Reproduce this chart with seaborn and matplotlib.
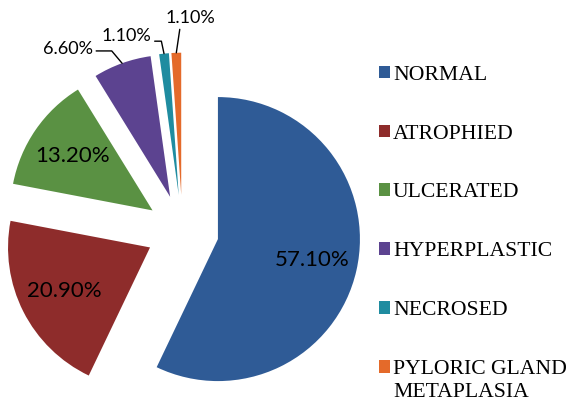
import matplotlib
matplotlib.use('Agg')
import matplotlib.pyplot as plt
import numpy as np
import seaborn as sns

categories = ['NORMAL', 'ATROPHIED', 'ULCERATED', 'HYPERPLASTIC', 'NECROSED', 'PYLORIC GLAND']
extra_line = 'METAPLASIA'
percentages = [57.1, 20.9, 13.2, 6.6, 1.1, 1.1]
colours = ['#2F5B96', '#8E2C2B', '#5A9143', '#5C4390', '#1F8CA0', '#E46A2A']

sns.set_theme(style='white')
plt.rcParams['font.family'] = ['Lato', 'DejaVu Sans']
plt.rcParams['text.color'] = 'black'

fig = plt.figure(figsize=(5.69, 4.03), dpi=100)
ax = fig.add_axes([0, 0, 1, 1])
wedges, texts, autotexts = ax.pie(
    percentages, colors=sns.color_palette(colours), startangle=90,
    counterclock=False, explode=[0.256] * len(percentages),
    autopct='%.2f%%', pctdistance=0.68,
    textprops=dict(fontsize=16, color='black'),
    wedgeprops=dict(linewidth=0))
ax.set_xlim(-1.285, 2.722)
ax.set_ylim(-1.211, 1.627)
ax.axis('off')

# small slices get their label outside with a leader line
outside = {
    3: dict(offset=(-39, 10), relpos=(1, 0.4), conn='angle,angleA=0,angleB=130,rad=0'),
    4: dict(offset=(-27, 13), relpos=(1, 0.15), conn='angle,angleA=0,angleB=102,rad=0'),
    5: dict(offset=(10, 25), relpos=(0.3, 0), conn='arc3'),
}
for i, o in outside.items():
    autotexts[i].set_visible(False)
    w = wedges[i]
    th = np.deg2rad((w.theta1 + w.theta2) / 2)
    xy = (w.center[0] + w.r * np.cos(th), w.center[1] + w.r * np.sin(th))
    ax.annotate(f'{percentages[i]:.2f}%', xy=xy, xytext=o['offset'],
                textcoords='offset points', ha='center', va='center', fontsize=13,
                arrowprops=dict(arrowstyle='-', color='black', lw=1,
                                relpos=o['relpos'], connectionstyle=o['conn'],
                                shrinkA=0, shrinkB=0))

leg = fig.legend(wedges, categories, loc='upper left', bbox_to_anchor=(0.666, 0.837),
                 frameon=False, prop=dict(family='Liberation Serif', size=15.6),
                 labelspacing=1.84, handlelength=0.52, handleheight=0.52,
                 handletextpad=0.12, borderpad=0, borderaxespad=0)

fig.canvas.draw()
bb = leg.get_texts()[-1].get_window_extent()
fig.text(bb.x0 / fig.bbox.width, (bb.y0 - 4) / fig.bbox.height, extra_line,
         family='Liberation Serif', size=15.6, va='top', ha='left')

fig.savefig('out.png', dpi=100)
